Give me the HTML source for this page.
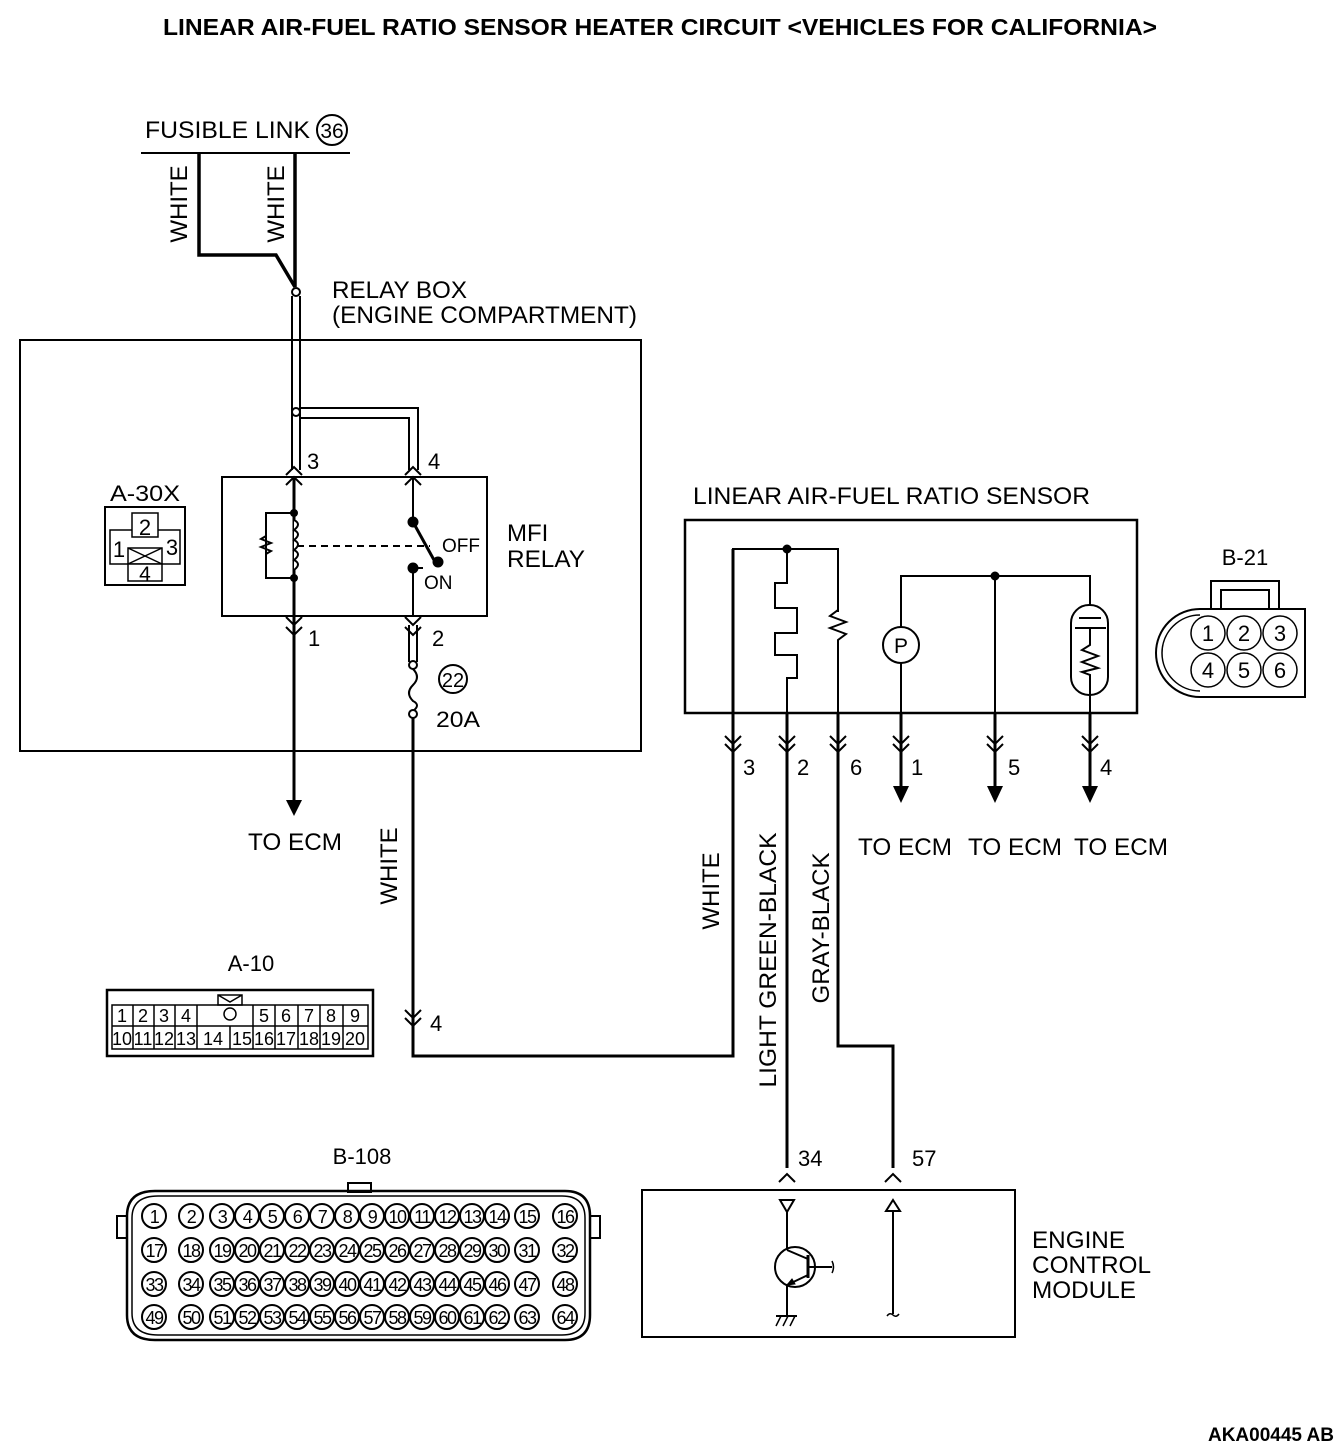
<!DOCTYPE html>
<html><head><meta charset="utf-8"><style>
html,body{margin:0;padding:0;background:#fff}
svg{display:block}
text{font-family:"Liberation Sans",Arial,sans-serif;fill:#000}
</style></head><body>
<svg width="1344" height="1452" viewBox="0 0 1344 1452" xmlns="http://www.w3.org/2000/svg" fill="none" stroke="#000">
<text x="163" y="35" font-size="23" font-weight="bold" textLength="994" lengthAdjust="spacingAndGlyphs" stroke="none">LINEAR AIR-FUEL RATIO SENSOR HEATER CIRCUIT &lt;VEHICLES FOR CALIFORNIA&gt;</text>

<!-- fusible link -->
<text x="145" y="138" font-size="24" textLength="165" lengthAdjust="spacingAndGlyphs" stroke="none">FUSIBLE LINK</text>
<circle cx="332" cy="130" r="15" stroke-width="2"/>
<text x="332" y="138" font-size="21" text-anchor="middle" stroke="none">36</text>
<line x1="141" y1="153" x2="350" y2="153" stroke-width="2"/>
<polyline points="199,153 199,255 276,255 295,287" stroke-width="3.5"/>
<line x1="295" y1="153" x2="295" y2="287" stroke-width="3.5"/>
<text transform="translate(187,204) rotate(-90)" font-size="24" text-anchor="middle" stroke="none">WHITE</text>
<text transform="translate(284,204) rotate(-90)" font-size="24" text-anchor="middle" stroke="none">WHITE</text>
<line x1="292" y1="296" x2="292" y2="470" stroke-width="2"/>
<line x1="300" y1="296" x2="300" y2="470" stroke-width="2"/>
<circle cx="296" cy="292" r="4" stroke-width="2" fill="#fff"/>
<text x="332" y="298" font-size="24" textLength="135" lengthAdjust="spacingAndGlyphs" stroke="none">RELAY BOX</text>
<text x="332" y="323" font-size="24" textLength="305" lengthAdjust="spacingAndGlyphs" stroke="none">(ENGINE COMPARTMENT)</text>

<!-- relay box outer -->
<rect x="20" y="340" width="621" height="411" stroke-width="2"/>
<polyline points="300,408 418,408 418,470" stroke-width="2"/>
<polyline points="300,418 409,418 409,470" stroke-width="2"/>
<circle cx="296" cy="412" r="4" stroke-width="2" fill="#fff"/>

<!-- relay -->
<rect x="222" y="477" width="265" height="139" stroke-width="2"/>
<polyline points="286,475 294,467 302,475" stroke-width="2"/>
<polyline points="286,485 294,477 302,485" stroke-width="2"/>
<polyline points="405,475 413,467 421,475" stroke-width="2"/>
<polyline points="405,485 413,477 421,485" stroke-width="2"/>
<line x1="294" y1="477" x2="294" y2="810" stroke-width="3"/>
<path d="M286,800 L302,800 L294,816 Z" fill="#000" stroke="none"/>
<polyline points="294,513 266,513 266,578 294,578" stroke-width="2"/>
<polyline points="266,532 266,536 261,539 271,543 261,547 271,551 266,554 266,560" stroke-width="2"/>
<path d="M294,520 q8,4 0,10 q8,4 0,10 q8,4 0,10 q8,4 0,10 q8,4 0,10" stroke-width="2" fill="#fff"/>
<circle cx="294" cy="513" r="3.5" fill="#000"/>
<circle cx="294" cy="578" r="3.5" fill="#000"/>
<line x1="297" y1="546" x2="430" y2="546" stroke-width="2" stroke-dasharray="7,5"/>
<line x1="413" y1="477" x2="413" y2="522" stroke-width="2"/>
<line x1="413" y1="522" x2="434" y2="560" stroke-width="3"/>
<circle cx="413" cy="522" r="5" fill="#000"/>
<circle cx="438" cy="562" r="5" fill="#000"/>
<line x1="413" y1="568" x2="413" y2="616" stroke-width="2"/>
<circle cx="413" cy="568" r="5" fill="#000"/>
<line x1="413" y1="568" x2="423" y2="568" stroke-width="2"/>
<text x="442" y="552" font-size="19" stroke="none">OFF</text>
<text x="424" y="589" font-size="19" stroke="none">ON</text>
<text x="507" y="541" font-size="24" stroke="none">MFI</text>
<text x="507" y="567" font-size="24" textLength="78" lengthAdjust="spacingAndGlyphs" stroke="none">RELAY</text>
<text x="307" y="469" font-size="22" stroke="none">3</text>
<text x="428" y="469" font-size="22" stroke="none">4</text>
<polyline points="286,617 294,625 302,617" stroke-width="2"/>
<polyline points="286,627 294,635 302,627" stroke-width="2"/>
<polyline points="405,617 413,625 421,617" stroke-width="2"/>
<polyline points="405,627 413,635 421,627" stroke-width="2"/>
<text x="308" y="646" font-size="22" stroke="none">1</text>
<text x="432" y="646" font-size="22" stroke="none">2</text>
<line x1="409" y1="625" x2="409" y2="662" stroke-width="2"/>
<line x1="417" y1="625" x2="417" y2="662" stroke-width="2"/>
<circle cx="413" cy="665" r="4" stroke-width="2" fill="#fff"/>
<path d="M413,669 q8,8 0,16 q-8,8 0,16 q8,4 0,10" stroke-width="2"/>
<circle cx="413" cy="714" r="4" stroke-width="2" fill="#fff"/>
<circle cx="453" cy="679" r="14" stroke-width="2"/>
<text x="453" y="687" font-size="20" text-anchor="middle" stroke="none">22</text>
<text x="436" y="727" font-size="22" textLength="44" lengthAdjust="spacingAndGlyphs" stroke="none">20A</text>
<text x="248" y="850" font-size="24" textLength="94" lengthAdjust="spacingAndGlyphs" stroke="none">TO ECM</text>
<polyline points="413,718 413,1056 733,1056 733,549" stroke-width="3"/>
<text transform="translate(397,866) rotate(-90)" font-size="24" text-anchor="middle" stroke="none">WHITE</text>
<polyline points="405,1010 413,1018 421,1010" stroke-width="2"/>
<polyline points="405,1018 413,1026 421,1018" stroke-width="2"/>
<text x="430" y="1031" font-size="22" stroke="none">4</text>

<!-- A-30X -->
<text x="110" y="501" font-size="22" textLength="70" lengthAdjust="spacingAndGlyphs" stroke="none">A-30X</text>
<rect x="105" y="507" width="80" height="78" stroke-width="2"/>
<rect x="110" y="530" width="70" height="34" stroke-width="1.5"/>
<rect x="132" y="513" width="26" height="24" stroke-width="1.5" fill="#fff"/>
<rect x="128" y="548" width="34" height="16" stroke-width="1.5" fill="#fff"/>
<rect x="128" y="564" width="34" height="17" stroke-width="1.5" fill="#fff"/>
<line x1="128" y1="548" x2="162" y2="564" stroke-width="1.5"/><line x1="162" y1="548" x2="128" y2="564" stroke-width="1.5"/>
<text x="145" y="535" font-size="22" text-anchor="middle" stroke="none">2</text>
<text x="119" y="557" font-size="22" text-anchor="middle" stroke="none">1</text>
<text x="172" y="555" font-size="22" text-anchor="middle" stroke="none">3</text>
<text x="145" y="581" font-size="21" text-anchor="middle" stroke="none">4</text>

<!-- A-10 -->
<text x="251" y="971" font-size="22" text-anchor="middle" stroke="none">A-10</text>
<rect x="107" y="990" width="266" height="66" stroke-width="2.5"/>
<rect x="112" y="1005" width="256" height="44" stroke-width="1.5"/>
<line x1="112" y1="1026" x2="368" y2="1026" stroke-width="1.5"/>
<path d="M218,995 h24 v10 h-24 z M218,995 l12,7 l12,-7" stroke-width="1.5"/>
<g stroke-width="1.5">
<line x1="133" y1="1005" x2="133" y2="1049"/><line x1="154" y1="1005" x2="154" y2="1049"/><line x1="175" y1="1005" x2="175" y2="1049"/><line x1="197" y1="1005" x2="197" y2="1049"/><line x1="253" y1="1005" x2="253" y2="1049"/><line x1="275" y1="1005" x2="275" y2="1049"/><line x1="298" y1="1005" x2="298" y2="1049"/><line x1="320" y1="1005" x2="320" y2="1049"/><line x1="343" y1="1005" x2="343" y2="1049"/><line x1="230" y1="1026" x2="230" y2="1049"/>
</g>
<circle cx="230" cy="1014" r="6" stroke-width="1.5"/>
<g font-size="18" text-anchor="middle" stroke="none">
<text x="122" y="1022">1</text><text x="143" y="1022">2</text><text x="164" y="1022">3</text><text x="186" y="1022">4</text><text x="264" y="1022">5</text><text x="286" y="1022">6</text><text x="309" y="1022">7</text><text x="331" y="1022">8</text><text x="355" y="1022">9</text>
<text x="122" y="1045">10</text><text x="143" y="1045">11</text><text x="164" y="1045">12</text><text x="186" y="1045">13</text><text x="213" y="1045">14</text><text x="242" y="1045">15</text><text x="264" y="1045">16</text><text x="286" y="1045">17</text><text x="309" y="1045">18</text><text x="331" y="1045">19</text><text x="355" y="1045">20</text>
</g>

<!-- sensor -->
<text x="693" y="504" font-size="24" textLength="397" lengthAdjust="spacingAndGlyphs" stroke="none">LINEAR AIR-FUEL RATIO SENSOR</text>
<rect x="685" y="520" width="452" height="193" stroke-width="2.5"/>
<polyline points="733,560 733,549 838,549 838,612" stroke-width="2"/>
<circle cx="787" cy="549" r="4" fill="#000"/>
<polyline points="787,549 787,583 775,583 775,608 797,608 797,633 775,633 775,655 797,655 797,678 787,678 787,713" stroke-width="2"/>
<polyline points="838,612 838,610 830,616 846,622 830,628 846,634 838,640 838,713" stroke-width="2"/>
<circle cx="901" cy="645" r="18" stroke-width="2"/>
<text x="901" y="653" font-size="21" text-anchor="middle" stroke="none">P</text>
<polyline points="901,627 901,576 1090,576 1090,605" stroke-width="2"/>
<line x1="901" y1="663" x2="901" y2="713" stroke-width="2"/>
<circle cx="995" cy="576" r="4" fill="#000"/>
<line x1="995" y1="576" x2="995" y2="713" stroke-width="2"/>
<rect x="1071" y="605" width="37" height="90" rx="18" stroke-width="2"/>
<line x1="1079" y1="618" x2="1101" y2="618" stroke-width="2"/>
<line x1="1075" y1="628" x2="1106" y2="628" stroke-width="2"/>
<polyline points="1090,628 1090,645 1082,650 1098,656 1082,662 1098,668 1082,672 1090,675 1090,695" stroke-width="2"/>
<line x1="1090" y1="695" x2="1090" y2="713" stroke-width="2"/>
<g stroke-width="2">
<polyline points="725,736 733,744 741,736"/><polyline points="725,744 733,752 741,744"/>
<polyline points="779,736 787,744 795,736"/><polyline points="779,744 787,752 795,744"/>
<polyline points="830,736 838,744 846,736"/><polyline points="830,744 838,752 846,744"/>
<polyline points="893,736 901,744 909,736"/><polyline points="893,744 901,752 909,744"/>
<polyline points="987,736 995,744 1003,736"/><polyline points="987,744 995,752 1003,744"/>
<polyline points="1082,736 1090,744 1098,736"/><polyline points="1082,744 1090,752 1098,744"/>
</g>
<line x1="787" y1="713" x2="787" y2="1168" stroke-width="3"/>
<polyline points="838,713 838,1046 893,1046 893,1168" stroke-width="3"/>
<line x1="901" y1="713" x2="901" y2="790" stroke-width="3"/>
<line x1="995" y1="713" x2="995" y2="790" stroke-width="3"/>
<line x1="1090" y1="713" x2="1090" y2="790" stroke-width="3"/>
<path d="M893,786 L909,786 L901,803 Z M987,786 L1003,786 L995,803 Z M1082,786 L1098,786 L1090,803 Z" fill="#000" stroke="none"/>
<g font-size="22" stroke="none">
<text x="743" y="775">3</text><text x="797" y="775">2</text><text x="850" y="775">6</text><text x="911" y="775">1</text><text x="1008" y="775">5</text><text x="1100" y="775">4</text>
</g>
<g font-size="24" stroke="none">
<text x="858" y="855" textLength="94" lengthAdjust="spacingAndGlyphs">TO ECM</text><text x="968" y="855" textLength="94" lengthAdjust="spacingAndGlyphs">TO ECM</text><text x="1074" y="855" textLength="94" lengthAdjust="spacingAndGlyphs">TO ECM</text>
</g>
<text transform="translate(719,891) rotate(-90)" font-size="24" text-anchor="middle" stroke="none">WHITE</text>
<text transform="translate(776,960) rotate(-90)" font-size="24" text-anchor="middle" textLength="255" lengthAdjust="spacingAndGlyphs" stroke="none">LIGHT GREEN-BLACK</text>
<text transform="translate(829,928) rotate(-90)" font-size="24" text-anchor="middle" textLength="151" lengthAdjust="spacingAndGlyphs" stroke="none">GRAY-BLACK</text>

<!-- B-21 -->
<text x="1245" y="565" font-size="22" text-anchor="middle" stroke="none">B-21</text>
<rect x="1211" y="581" width="68" height="28" stroke-width="2"/>
<rect x="1221" y="590" width="48" height="19" stroke-width="2"/>
<path d="M1305,609 H1200 A44,44 0 0 0 1200,697 H1305 Z" stroke-width="2"/>
<path d="M1200,615 A38,38 0 0 0 1200,691" stroke-width="1.5"/>
<g stroke-width="1.5" fill="#fff">
<circle cx="1208" cy="633" r="17"/><circle cx="1244" cy="633" r="17"/><circle cx="1280" cy="633" r="17"/>
<circle cx="1208" cy="670" r="17"/><circle cx="1244" cy="670" r="17"/><circle cx="1280" cy="670" r="17"/>
</g>
<g font-size="22" text-anchor="middle" stroke="none">
<text x="1208" y="641">1</text><text x="1244" y="641">2</text><text x="1280" y="641">3</text>
<text x="1208" y="678">4</text><text x="1244" y="678">5</text><text x="1280" y="678">6</text>
</g>

<!-- ECM -->
<polyline points="779,1182 787,1174 795,1182" stroke-width="2"/>
<polyline points="885,1182 893,1174 901,1182" stroke-width="2"/>
<text x="798" y="1166" font-size="22" stroke="none">34</text>
<text x="912" y="1166" font-size="22" stroke="none">57</text>
<rect x="642" y="1190" width="373" height="147" stroke-width="2"/>
<path d="M780,1200 H794 L787,1212 Z" stroke-width="2"/>
<line x1="787" y1="1212" x2="787" y2="1250" stroke-width="2"/>
<circle cx="795" cy="1267" r="20" stroke-width="2"/>
<line x1="808" y1="1255" x2="808" y2="1278" stroke-width="3"/>
<line x1="808" y1="1267" x2="832" y2="1267" stroke-width="2"/>
<path d="M832,1261 q3,6 0,12" stroke-width="1.5"/>
<line x1="787" y1="1250" x2="808" y2="1259" stroke-width="2"/>
<line x1="808" y1="1275" x2="787" y2="1285" stroke-width="2"/>
<path d="M787,1285 l8,-1 l-3,-5 z" fill="#000"/>
<line x1="787" y1="1285" x2="787" y2="1316" stroke-width="2"/>
<line x1="776" y1="1316" x2="797" y2="1316" stroke-width="2"/>
<path d="M776,1326 l5,-10 M783,1326 l5,-10 M790,1326 l5,-10" stroke-width="1.5"/>
<path d="M893,1200 L900,1211 H886 Z" stroke-width="2"/>
<line x1="893" y1="1211" x2="893" y2="1314" stroke-width="2"/>
<path d="M887,1316 q3,-4 6,-1 q3,3 6,-1" stroke-width="1.5"/>
<g font-size="24" stroke="none">
<text x="1032" y="1248" textLength="93" lengthAdjust="spacingAndGlyphs">ENGINE</text><text x="1032" y="1273" textLength="119" lengthAdjust="spacingAndGlyphs">CONTROL</text><text x="1032" y="1298" textLength="104" lengthAdjust="spacingAndGlyphs">MODULE</text>
</g>

<!-- B-108 -->
<text x="362" y="1164" font-size="22" text-anchor="middle" stroke="none">B-108</text>
<rect x="348" y="1183" width="23" height="9" stroke-width="2"/>
<path d="M155,1191 H565 Q590,1191 590,1216 V1315 Q590,1340 565,1340 H155 Q127,1340 127,1315 V1216 Q127,1191 155,1191 Z" stroke-width="2.5"/>
<path d="M158,1196 H562 Q585,1196 585,1218 V1313 Q585,1335 562,1335 H158 Q132,1335 132,1313 V1218 Q132,1196 158,1196 Z" stroke-width="1.5"/>
<rect x="117" y="1216" width="10" height="22" stroke-width="2"/>
<rect x="590" y="1216" width="10" height="22" stroke-width="2"/>
<g stroke-width="2">
<circle cx="154" cy="1216" r="12"/><circle cx="191" cy="1216" r="12"/><circle cx="222" cy="1216" r="12"/><circle cx="247" cy="1216" r="12"/><circle cx="272" cy="1216" r="12"/><circle cx="297" cy="1216" r="12"/><circle cx="322" cy="1216" r="12"/><circle cx="347" cy="1216" r="12"/><circle cx="372" cy="1216" r="12"/><circle cx="397" cy="1216" r="12"/><circle cx="422" cy="1216" r="12"/><circle cx="447" cy="1216" r="12"/><circle cx="472" cy="1216" r="12"/><circle cx="497" cy="1216" r="12"/><circle cx="527" cy="1216" r="12"/><circle cx="565" cy="1216" r="12"/>
<circle cx="154" cy="1250" r="12"/><circle cx="191" cy="1250" r="12"/><circle cx="222" cy="1250" r="12"/><circle cx="247" cy="1250" r="12"/><circle cx="272" cy="1250" r="12"/><circle cx="297" cy="1250" r="12"/><circle cx="322" cy="1250" r="12"/><circle cx="347" cy="1250" r="12"/><circle cx="372" cy="1250" r="12"/><circle cx="397" cy="1250" r="12"/><circle cx="422" cy="1250" r="12"/><circle cx="447" cy="1250" r="12"/><circle cx="472" cy="1250" r="12"/><circle cx="497" cy="1250" r="12"/><circle cx="527" cy="1250" r="12"/><circle cx="565" cy="1250" r="12"/>
<circle cx="154" cy="1284" r="12"/><circle cx="191" cy="1284" r="12"/><circle cx="222" cy="1284" r="12"/><circle cx="247" cy="1284" r="12"/><circle cx="272" cy="1284" r="12"/><circle cx="297" cy="1284" r="12"/><circle cx="322" cy="1284" r="12"/><circle cx="347" cy="1284" r="12"/><circle cx="372" cy="1284" r="12"/><circle cx="397" cy="1284" r="12"/><circle cx="422" cy="1284" r="12"/><circle cx="447" cy="1284" r="12"/><circle cx="472" cy="1284" r="12"/><circle cx="497" cy="1284" r="12"/><circle cx="527" cy="1284" r="12"/><circle cx="565" cy="1284" r="12"/>
<circle cx="154" cy="1317" r="12"/><circle cx="191" cy="1317" r="12"/><circle cx="222" cy="1317" r="12"/><circle cx="247" cy="1317" r="12"/><circle cx="272" cy="1317" r="12"/><circle cx="297" cy="1317" r="12"/><circle cx="322" cy="1317" r="12"/><circle cx="347" cy="1317" r="12"/><circle cx="372" cy="1317" r="12"/><circle cx="397" cy="1317" r="12"/><circle cx="422" cy="1317" r="12"/><circle cx="447" cy="1317" r="12"/><circle cx="472" cy="1317" r="12"/><circle cx="497" cy="1317" r="12"/><circle cx="527" cy="1317" r="12"/><circle cx="565" cy="1317" r="12"/>
</g>
<g font-size="18" text-anchor="middle" stroke="none" letter-spacing="-1.5">
<text x="154" y="1223">1</text><text x="191" y="1223">2</text><text x="222" y="1223">3</text><text x="247" y="1223">4</text><text x="272" y="1223">5</text><text x="297" y="1223">6</text><text x="322" y="1223">7</text><text x="347" y="1223">8</text><text x="372" y="1223">9</text><text x="397" y="1223">10</text><text x="422" y="1223">11</text><text x="447" y="1223">12</text><text x="472" y="1223">13</text><text x="497" y="1223">14</text><text x="527" y="1223">15</text><text x="565" y="1223">16</text>
<text x="154" y="1257">17</text><text x="191" y="1257">18</text><text x="222" y="1257">19</text><text x="247" y="1257">20</text><text x="272" y="1257">21</text><text x="297" y="1257">22</text><text x="322" y="1257">23</text><text x="347" y="1257">24</text><text x="372" y="1257">25</text><text x="397" y="1257">26</text><text x="422" y="1257">27</text><text x="447" y="1257">28</text><text x="472" y="1257">29</text><text x="497" y="1257">30</text><text x="527" y="1257">31</text><text x="565" y="1257">32</text>
<text x="154" y="1291">33</text><text x="191" y="1291">34</text><text x="222" y="1291">35</text><text x="247" y="1291">36</text><text x="272" y="1291">37</text><text x="297" y="1291">38</text><text x="322" y="1291">39</text><text x="347" y="1291">40</text><text x="372" y="1291">41</text><text x="397" y="1291">42</text><text x="422" y="1291">43</text><text x="447" y="1291">44</text><text x="472" y="1291">45</text><text x="497" y="1291">46</text><text x="527" y="1291">47</text><text x="565" y="1291">48</text>
<text x="154" y="1324">49</text><text x="191" y="1324">50</text><text x="222" y="1324">51</text><text x="247" y="1324">52</text><text x="272" y="1324">53</text><text x="297" y="1324">54</text><text x="322" y="1324">55</text><text x="347" y="1324">56</text><text x="372" y="1324">57</text><text x="397" y="1324">58</text><text x="422" y="1324">59</text><text x="447" y="1324">60</text><text x="472" y="1324">61</text><text x="497" y="1324">62</text><text x="527" y="1324">63</text><text x="565" y="1324">64</text>
</g>

<text x="1334" y="1441" font-size="19" font-weight="bold" text-anchor="end" stroke="none">AKA00445 AB</text>
</svg>
</body></html>
